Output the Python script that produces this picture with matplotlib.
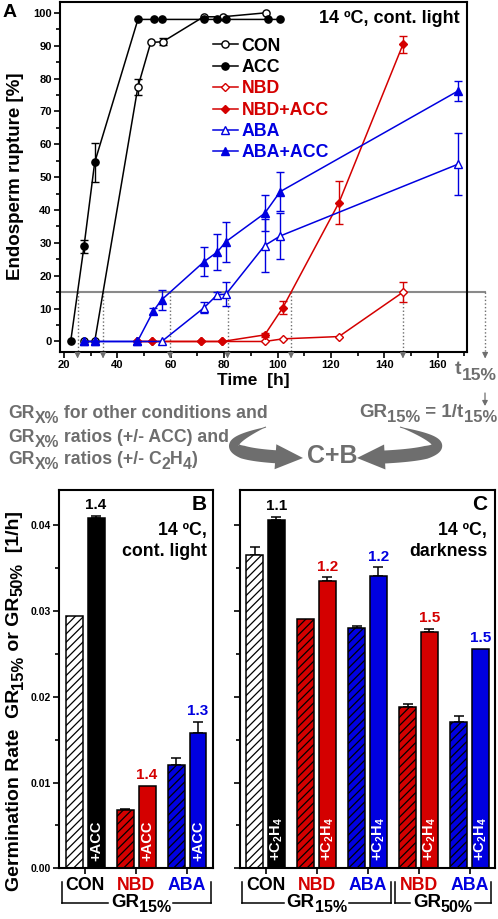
import numpy as np
import matplotlib
matplotlib.use('Agg')
import matplotlib.pyplot as plt
from matplotlib.transforms import IdentityTransform
from matplotlib.patches import Polygon, FancyArrowPatch
from matplotlib.ticker import MultipleLocator, FormatStrFormatter

plt.rcParams['font.family'] = ['Liberation Sans', 'DejaVu Sans']
plt.rcParams['font.weight'] = 'bold'
plt.rcParams['mathtext.fontset'] = 'custom'
plt.rcParams['mathtext.rm'] = 'Liberation Sans:bold'
plt.rcParams['mathtext.bf'] = 'Liberation Sans:bold'
plt.rcParams['mathtext.it'] = 'Liberation Sans:bold'
plt.rcParams['hatch.linewidth'] = 0.9

# ---------------- data: panel A (time course) ----------------
con_t = [27.5, 31.5, 47.7, 52.5, 57.0, 72.3, 79.4, 95.5]
con_v = [0, 0, 77.5, 91.0, 91.2, 98.8, 98.8, 100.0]
con_e = [0, 0, 2.5, 0, 1.0, 0, 0, 0]
acc_t = [22.5, 27.5, 31.5, 47.7, 53.6, 56.6, 72.4, 77.2, 80.6, 96.3, 101.0]
acc_v = [0, 29, 54.5, 98, 98, 98, 98, 98, 98, 98, 98]
acc_e = [0, 2, 6, 0, 0, 0, 0, 0, 0, 0, 0]
nbd_t = [47.5, 52.8, 71.2, 79.3, 95.2, 102.0, 123.0, 147.0]
nbd_v = [0, 0, 0, 0, 0, 0.8, 1.5, 15.0]
nbd_e = [0, 0, 0, 0, 0, 0, 0, 3.0]
nbdacc_t = [47.5, 52.8, 71.2, 79.3, 95.2, 102.0, 123.0, 147.0]
nbdacc_v = [0, 0, 0, 0, 2.0, 10.3, 42.2, 90.4]
nbdacc_e = [0, 0, 0, 0, 0.5, 2.0, 6.5, 2.7]
aba_t = [27.6, 31.7, 47.5, 56.6, 72.5, 77.4, 80.7, 95.2, 101.0, 167.8]
aba_v = [0, 0, 0, 0, 10.3, 14.2, 14.4, 29.2, 32.1, 54.0]
aba_e = [0, 0, 0, 0, 1.7, 1.0, 3.7, 8.0, 7.0, 9.3]
abaacc_t = [27.6, 31.7, 47.5, 53.5, 56.6, 72.5, 77.4, 80.7, 95.2, 101.0, 167.8]
abaacc_v = [0, 0, 0, 9.3, 12.7, 24.3, 27.2, 30.4, 39.0, 45.6, 76.3]
abaacc_e = [0, 0, 0, 1.0, 3.0, 4.4, 5.5, 6.1, 5.5, 6.0, 3.0]
threshold = 15

# ---------------- data: panels B and C (rates) ----------------
groupsB = ['CON', 'NBD', 'ABA']
B_minus = [0.0294, 0.0068, 0.0120]
B_minus_err = [0.0, 0.0001, 0.0009]
B_plus = [0.0408, 0.0096, 0.0158]
B_plus_err = [0.0003, 0.0, 0.0013]
B_ratio = ['1.4', '1.4', '1.3']

groupsC = ['CON', 'NBD', 'ABA', 'NBD', 'ABA']
C_minus = [0.0365, 0.0291, 0.0280, 0.0188, 0.0171]
C_minus_err = [0.0009, 0.0, 0.0003, 0.0004, 0.0007]
C_plus = [0.0406, 0.0335, 0.0341, 0.0276, 0.0256]
C_plus_err = [0.0004, 0.0004, 0.0010, 0.0003, 0.0]
C_ratio = ['1.1', '1.2', '1.2', '1.5', '1.5']

RED = '#d40000'
BLUE = '#0000e0'
GRAY = '#6e6e6e'
LGRAY = '#8a8a8a'
GCOL = {'CON': 'black', 'NBD': RED, 'ABA': BLUE}
HFACE = {'CON': 'white', 'NBD': RED, 'ABA': BLUE}

W, H = 498, 919
fig = plt.figure(figsize=(W / 100, H / 100), dpi=100)
T = IdentityTransform()
R = fig.canvas.get_renderer()


def ftext(x, y, s, **kw):
    return fig.text(x, H - y, s, transform=T, **kw)


def _ink(s, size):
    t = fig.text(0, 0, s, fontsize=size, fontweight='bold', transform=T)
    w = t.get_window_extent(R).width
    t.remove()
    return w


def advance(s, size):
    return _ink('|' + s + '|', size) - _ink('||', size)


def rich(x, y, parts, ha='left', rot=0, color='k'):
    objs, lens = [], []
    for s, size, dy in parts:
        t = fig.text(0, 0, s, fontsize=size, fontweight='bold', color=color,
                     rotation=rot, rotation_mode='anchor', ha='left',
                     va='baseline', transform=T)
        lens.append(advance(s, size))
        objs.append((t, dy))
    total = sum(lens)
    pos = {'left': 0, 'center': -total / 2, 'right': -total}[ha]
    yb = H - y
    start = pos
    for (t, dy), L in zip(objs, lens):
        if rot == 0:
            t.set_position((x + pos, yb - dy))
        else:
            t.set_position((x + dy, yb + pos))
        pos += L
    return x + start, x + pos


def curved_arrow(S, C, E, wmax, head_len, head_w, color):
    S, C, E = [np.array([p[0], H - p[1]], float) for p in (S, C, E)]
    t = np.linspace(0, 1, 300)[:, None]
    pts = (1 - t) ** 2 * S + 2 * t * (1 - t) * C + t ** 2 * E
    d = np.diff(pts, axis=0)
    s = np.concatenate([[0], np.cumsum(np.hypot(d[:, 0], d[:, 1]))])
    total = s[-1]
    k = np.searchsorted(s, total - head_len)
    tang = np.gradient(pts, axis=0)
    tang /= np.hypot(tang[:, 0], tang[:, 1])[:, None]
    nrm = np.column_stack([-tang[:, 1], tang[:, 0]])
    w = wmax * np.clip(s / (0.45 * total), 0.08, 1.0)
    body = pts[:k + 1]
    left = body + nrm[:k + 1] * (w[:k + 1, None] / 2)
    right = body - nrm[:k + 1] * (w[:k + 1, None] / 2)
    base = pts[k]
    hl = base + nrm[k] * head_w / 2
    hr = base - nrm[k] * head_w / 2
    poly = np.vstack([left, [hl, E, hr], right[::-1]])
    fig.add_artist(Polygon(poly, closed=True, transform=T, facecolor=color,
                           edgecolor='none'))


def style_axes(ax):
    for sp in ax.spines.values():
        sp.set_linewidth(1.5)
    ax.tick_params(which='both', direction='out', width=1.2)
    ax.tick_params(which='major', length=4)
    ax.tick_params(which='minor', length=3)


# =================== Panel A ===================
axA = fig.add_axes([60 / W, 1 - 352 / H, 407 / W, 350 / H])
style_axes(axA)
axA.set_xlim(18.5, 171)
axA.set_ylim(-3.2, 103.3)
axA.xaxis.set_major_locator(MultipleLocator(20))
axA.xaxis.set_minor_locator(MultipleLocator(10))
axA.yaxis.set_major_locator(MultipleLocator(10))
axA.yaxis.set_minor_locator(MultipleLocator(5))
axA.tick_params(axis='both', which='both', top=False, right=False)
axA.tick_params(axis='both', labelsize=8, pad=2)

series = [
    ('CON', con_t, con_v, con_e, 'black', 'o', False, 5.2),
    ('ACC', acc_t, acc_v, acc_e, 'black', 'o', True, 5.2),
    ('NBD', nbd_t, nbd_v, nbd_e, RED, 'D', False, 4.2),
    ('NBD+ACC', nbdacc_t, nbdacc_v, nbdacc_e, RED, 'D', True, 4.2),
    ('ABA', aba_t, aba_v, aba_e, BLUE, '^', False, 5.5),
    ('ABA+ACC', abaacc_t, abaacc_v, abaacc_e, BLUE, '^', True, 5.5),
]

# threshold line
axA.plot([18.5, 177.8], [threshold, threshold], color=LGRAY, lw=1.5,
         clip_on=False, zorder=1)


def t_cross(t, v, thr):
    t = np.asarray(t, float)
    v = np.asarray(v, float)
    i = int(np.argmax(v >= thr))
    if v[i] == thr or i == 0:
        return t[i]
    return t[i - 1] + (thr - v[i - 1]) * (t[i] - t[i - 1]) / (v[i] - v[i - 1])


def drop(x):
    axA.plot([x, x], [threshold, -3.6], color=GRAY, lw=1.0, ls=(0, (1, 1.6)),
             clip_on=False, zorder=1)
    axA.annotate('', xy=(x, -5.2), xytext=(x, -3.4),
                 arrowprops=dict(arrowstyle='-|>,head_length=0.35,head_width=0.17',
                                 color=GRAY, lw=0.8, shrinkA=0, shrinkB=0),
                 annotation_clip=False)


handles = []
for name, t, v, e, c, m, filled, ms in series:
    t = np.asarray(t, float); v = np.asarray(v, float); e = np.asarray(e, float)
    ln, = axA.plot(t, v, color=c, lw=1.1, marker=m, ms=ms,
                   mfc=c if filled else 'white', mec=c, mew=1.0, zorder=3,
                   clip_on=False)
    mask = e > 0
    axA.errorbar(t[mask], v[mask], yerr=e[mask], fmt='none', ecolor=c,
                 elinewidth=1.0, capsize=2.8, capthick=1.0, zorder=2)
    handles.append(ln)
    drop(t_cross(t, v, threshold))

drop(177.8)

leg = axA.legend(handles, [s[0] for s in series], loc='upper left',
                 bbox_to_anchor=(0.376, 0.898), frameon=False,
                 prop=dict(size=12.8, weight='bold'), handlelength=1.4,
                 handletextpad=0.2, labelspacing=0.245, borderpad=0,
                 borderaxespad=0,
                 labelcolor=[s[4] for s in series])

ftext(3, 17, 'A', fontsize=14, fontweight='bold')
ftext(460, 23, '14 ºC, cont. light', fontsize=13, fontweight='bold', ha='right',
      va='baseline')
ftext(16, 176, 'Endosperm rupture [%]', fontsize=13.5, fontweight='bold',
      rotation=90, ha='center', va='center')
ftext(253, 385, 'Time  [h]', fontsize=12.5, fontweight='bold', ha='center',
      va='baseline')

# t15% annotation on the right
rich(455, 374, [('t', 14, 0), ('15%', 12.5, 6)], color=GRAY)
fig.add_artist(FancyArrowPatch(
    (485, H - 393), (485, H - 406), transform=T,
    arrowstyle='-|>,head_length=3,head_width=1.6', color=GRAY, lw=0.9,
    shrinkA=0, shrinkB=0))
rich(497, 417, [('GR', 13.5, 0), ('15%', 12, 5), (' = 1/t', 13.5, 0), ('15%', 12, 5)],
     ha='right', color=GRAY)

# left text block
rich(8, 418, [('GR', 12.7, 0), ('X%', 11.3, 5), (' for other conditions and', 12.7, 0)],
     color=GRAY)
rich(8, 442, [('GR', 12.7, 0), ('X%', 11.3, 5), (' ratios (+/- ACC) and', 12.7, 0)],
     color=GRAY)
rich(8, 464, [('GR', 12.7, 0), ('X%', 11.3, 5), (' ratios (+/- C', 12.7, 0),
              ('2', 11.3, 5), ('H', 12.7, 0), ('4', 11.3, 5), (')', 12.7, 0)],
     color=GRAY)

ftext(332, 463, 'C+B', fontsize=18, fontweight='bold', ha='center',
      va='baseline', color=GRAY)
curved_arrow((266, 427), (187, 455), (303, 458), 13, 28, 25, GRAY)
curved_arrow((400, 427), (492, 455), (357, 458), 13, 28, 25, GRAY)

# =================== Panels B and C ===================
SP = 2.35
BW = 0.78


def bar_panel(ax, groups, minus, merr, plus, perr, ratios, plus_lab, xlim):
    style_axes(ax)
    ax.set_xlim(*xlim)
    ax.set_ylim(0, 0.0441)
    ax.yaxis.set_major_locator(MultipleLocator(0.01))
    ax.yaxis.set_minor_locator(MultipleLocator(0.005))
    ax.yaxis.set_major_formatter(FormatStrFormatter('%.2f'))
    ax.tick_params(axis='y', which='both', right=False, labelsize=7.5, pad=2)
    ax.tick_params(axis='x', which='both', top=False)
    centers = np.arange(len(groups)) * SP
    for i, g in enumerate(groups):
        c = GCOL[g]
        xm, xp = centers[i] - 0.5, centers[i] + 0.5
        ax.bar(xm, minus[i], width=BW, color=HFACE[g], edgecolor='black',
               lw=1.1, hatch='////', zorder=2)
        ax.bar(xp, plus[i], width=BW, color=c, edgecolor='black', lw=1.1,
               zorder=2)
        for x, v, e in ((xm, minus[i], merr[i]), (xp, plus[i], perr[i])):
            if e > 0:
                ax.errorbar([x], [v], yerr=[[0], [e]], fmt='none', ecolor='black',
                            elinewidth=1.1, capsize=3.5, capthick=1.1, zorder=1)
        ax.annotate(ratios[i], xy=(xp, plus[i] + perr[i]), xytext=(0, 4.8),
                    textcoords='offset points', ha='center', va='baseline',
                    color=c, fontsize=11, fontweight='bold')
        ax.annotate(plus_lab, xy=(xp, 0), xytext=(0, 5),
                    textcoords='offset points', ha='center', va='bottom',
                    rotation=90, color='white', fontsize=10.5,
                    fontweight='bold', zorder=4)
    ax.set_xticks(centers)
    ax.set_xticklabels(groups, fontsize=12.8, fontweight='bold')
    for lbl, g in zip(ax.get_xticklabels(), groups):
        lbl.set_color(GCOL[g])
    ax.tick_params(axis='x', length=4, pad=2.5)
    return centers


def bracket(ax, x0, x1, parts, shift=0.0):
    tr = ax.get_xaxis_transform()
    y0, y1 = -0.036, -0.0925
    ax.plot([x0, x0], [y0, y1], color='black', lw=1.1, clip_on=False, transform=tr)
    ax.plot([x1, x1], [y0, y1], color='black', lw=1.1, clip_on=False, transform=tr)
    d0 = ax.transData.transform((x0, 0))[0]
    d1 = ax.transData.transform((x1, 0))[0]
    ypx = 868.3 - y1 * 378.3
    tl, tr_ = rich((d0 + d1) / 2 + shift, ypx + 4, parts, ha='center', color='black')
    ax.plot([x0, ax.transData.inverted().transform((tl - 3, 0))[0]], [y1, y1],
            color='black', lw=1.1, clip_on=False, transform=tr)
    ax.plot([ax.transData.inverted().transform((tr_ + 2, 0))[0], x1], [y1, y1],
            color='black', lw=1.1, clip_on=False, transform=tr)


axB = fig.add_axes([59 / W, 1 - 868.3 / H, 154 / W, 378.3 / H])
cB = bar_panel(axB, groupsB, B_minus, B_minus_err, B_plus, B_plus_err, B_ratio,
               '+ACC', (-1.21, 5.89))
axC = fig.add_axes([239.5 / W, 1 - 868.3 / H, 255 / W, 378.3 / H])
cC = bar_panel(axC, groupsC, C_minus, C_minus_err, C_plus, C_plus_err, C_ratio,
               r'+C$_2$H$_4$', (-1.2, 10.55))
axC.tick_params(axis='y', labelleft=False)

GR15 = [('GR', 13.5, 0), ('15%', 11.5, 5)]
GR50 = [('GR', 13.5, 0), ('50%', 11.5, 5)]
bracket(axB, cB[0] - 1.08, cB[-1] + 1.08, GR15, shift=5)
bracket(axC, cC[0] - 1.08, cC[2] + 1.1, GR15)
bracket(axC, cC[3] - 1.1, cC[4] + 1.0, GR50)

# panel labels
ftext(207, 510, 'B', fontsize=15, fontweight='bold', ha='right', va='baseline')
ftext(207, 535, '14 ºC,', fontsize=12.8, fontweight='bold', ha='right', va='baseline')
ftext(207, 556, 'cont. light', fontsize=12.8, fontweight='bold', ha='right',
      va='baseline')
ftext(487, 510, 'C', fontsize=15, fontweight='bold', ha='right', va='baseline')
ftext(487, 535, '14 ºC,', fontsize=12.8, fontweight='bold', ha='right', va='baseline')
ftext(487, 556, 'darkness', fontsize=12.8, fontweight='bold', ha='right',
      va='baseline')

rich(19, 701, [('Germination Rate  GR', 14, 0), ('15%', 12, 4), (' or GR', 14, 0),
               ('50%', 12, 4), ('  [1/h]', 14, 0)], ha='center', rot=90)

fig.savefig('out.png', dpi=100)
